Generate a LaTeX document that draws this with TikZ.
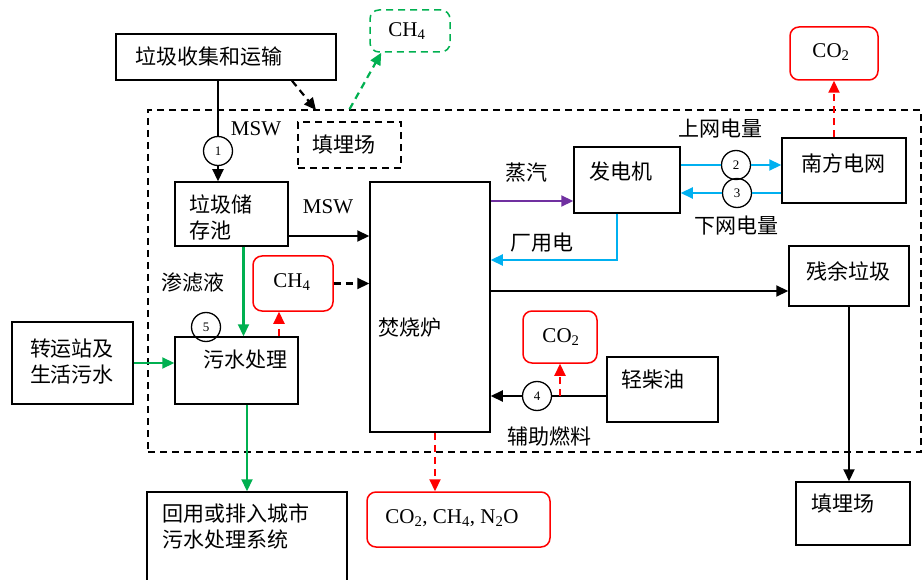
\documentclass[tikz,border=0pt]{standalone}
\usepackage{fontspec}
\setmainfont{Liberation Serif}
\newfontfamily\cjk{Noto Sans CJK SC}
\usetikzlibrary{arrows.meta,calc,fit}
\definecolor{flowgreen}{RGB}{0,176,80}
\definecolor{flowblue}{RGB}{0,176,240}
\definecolor{flowpurple}{RGB}{112,48,160}
\definecolor{emitred}{RGB}{255,0,0}

\tikzset{
  blk/.style={draw, line width=1.5pt, inner sep=0pt},
  gasbox/.style={draw=emitred, line width=1.5pt, inner sep=0pt, rounded corners=9pt},
  meter/.style={draw, circle, line width=1.3pt, minimum size=29pt, inner sep=0pt, font=\fontsize{13}{15}\selectfont},
  lbl/.style={font=\fontsize{21}{25}\selectfont, inner sep=0pt},
  zh/.style={font=\fontsize{21}{26}\selectfont\cjk, inner sep=0pt},
  arr/.style={line width=2.2pt, -{Triangle[length=12pt,width=11pt]}},
  flow/.style={line width=2.2pt},
  dsh/.style={dash pattern=on 7pt off 5pt}
}

\begin{document}
\begin{tikzpicture}[x=1pt,y=-1pt]
\useasboundingbox (0,0) rectangle (924,580);

\node[blk, dsh, fit={(148,110) (921,452)}] (plant) {};

\node[blk, fit={(116,34) (336,80)}] (collect) {};
\node[zh] at (209,57) {垃圾收集和运输};
\node[draw=flowgreen, line width=1.5pt, dsh, rounded corners=9pt, inner sep=0pt, fit={(370,10) (450,52)}] (ch4top) {};
\node[lbl] at (407,31) {CH\textsubscript{4}};
\node[blk, dsh, fit={(298,122) (401,168)}] (dumpin) {};
\node[zh] at (344,145) {填埋场};

\node[blk, fit={(175,182) (288,246)}] (pool) {};
\node[zh, align=left, anchor=west] at (189,217) {垃圾储\\存池};
\node[blk, fit={(370,182) (490,432)}] (furnace) {};
\node[zh] at (410,328) {焚烧炉};
\node[blk, fit={(574,147) (680,213)}] (gen) {};
\node[zh] at (621,172) {发电机};
\node[blk, fit={(782,138) (906,203)}] (grid) {};
\node[zh] at (843,163) {南方电网};
\node[gasbox, fit={(790,27) (878,80)}] (co2top) {};
\node[lbl] at (831,52) {CO\textsubscript{2}};
\node[blk, fit={(789,246) (909,306)}] (resid) {};
\node[zh] at (848,271) {残余垃圾};
\node[blk, fit={(796,482) (910,545)}] (dump) {};
\node[zh] at (843,504) {填埋场};

\node[gasbox, fit={(253,256) (333,311)}] (ch4mid) {};
\node[lbl] at (292,282) {CH\textsubscript{4}};
\node[blk, fit={(175,337) (298,404)}] (sewage) {};
\node[zh] at (245,360) {污水处理};
\node[blk, fit={(12,322) (133,404)}] (transfer) {};
\node[zh, align=left] at (72,362) {转运站及\\生活污水};
\node[blk, fit={(147,492) (347,590)}] (reuse) {};
\node[zh, align=left, anchor=north west] at (162,503) {回用或排入城市\\污水处理系统};
\node[gasbox, fit={(367,492) (550,547)}] (emis) {};
\node[lbl] at (452,518) {CO\textsubscript{2}, CH\textsubscript{4}, N\textsubscript{2}O};
\node[blk, fit={(607,357) (718,422)}] (diesel) {};
\node[zh] at (653,380) {轻柴油};
\node[gasbox, fit={(523,311) (597,363)}] (co2mid) {};
\node[lbl] at (561,337) {CO\textsubscript{2}};

\node[meter] (m1) at (218,151) {1};
\node[meter] (m2) at (736,165) {2};
\node[meter] (m3) at (737,193) {3};
\node[meter] (m4) at (537,396) {4};
\node[meter] (m5) at (206,327) {5};

\node[lbl] at (256,129) {MSW};
\node[lbl] at (328,207) {MSW};
\node[zh] at (526,173) {蒸汽};
\node[zh] at (542,243) {厂用电};
\node[zh] at (720,129) {上网电量};
\node[zh] at (736,226) {下网电量};
\node[zh] at (193,283) {渗滤液};
\node[zh] at (549,436) {辅助燃料};

\coordinate (tip1) at (316,110);
\coordinate (steam) at ([yshift=-21pt]gen.west);
\coordinate (ash) at ([yshift=-15pt]resid.west);
\coordinate (leach) at ([xshift=12pt]pool.south);
\coordinate (gasin) at ([xshift=-14pt]ch4mid.south);
\coordinate (flue) at ([xshift=5pt]furnace.south);
\coordinate (msw) at ([yshift=-22pt]pool.east);

\draw[flow] (collect.south -| m1) -- (m1.north);
\draw[arr] (m1.south) -- (m1.south |- pool.north);
\draw[arr, dsh] ([xshift=66pt]collect.south) -- (tip1);
\draw[arr, dsh, flowgreen] (dumpin.north |- plant.north) -- ([xshift=12pt]ch4top.south west);
\draw[arr] (msw) -- (furnace.west |- msw);
\draw[arr, flowpurple] (furnace.east |- steam) -- (steam);
\draw[arr, flowblue] ([xshift=-10pt]gen.south) |- ([yshift=47pt]furnace.east);
\draw[flow, flowblue] (gen.east |- m2) -- (m2);
\draw[arr, flowblue] (m2) -- (m2 -| grid.west);
\draw[flow, flowblue] (grid.west |- m3) -- (m3);
\draw[arr, flowblue] (m3) -- (m3 -| gen.east);
\draw[arr, dsh, emitred] (co2top.south |- grid.north) -- (co2top.south);
\draw[arr] (furnace.east |- ash) -- (ash);
\draw[arr] (resid.south) -- (resid.south |- dump.north);
\draw[arr, dsh] (ch4mid.east) -- (furnace.west |- ch4mid.east);
\draw[arr, flowgreen] (leach) -- (leach |- sewage.north);
\draw[arr, dsh, emitred] (gasin |- sewage.north) -- (gasin);
\draw[arr, flowgreen] (transfer.east) -- (transfer.east -| sewage.west);
\draw[arr, flowgreen] (sewage.south -| reuse.north) -- (reuse.north);
\draw[arr, dsh, emitred] (flue) -- (flue |- emis.north);
\draw[flow] (diesel.west |- m4) -- (m4);
\draw[arr] (m4) -- (m4 -| furnace.east);
\draw[arr, dsh, emitred] (co2mid.south |- m4) -- (co2mid.south);
\end{tikzpicture}
\end{document}
